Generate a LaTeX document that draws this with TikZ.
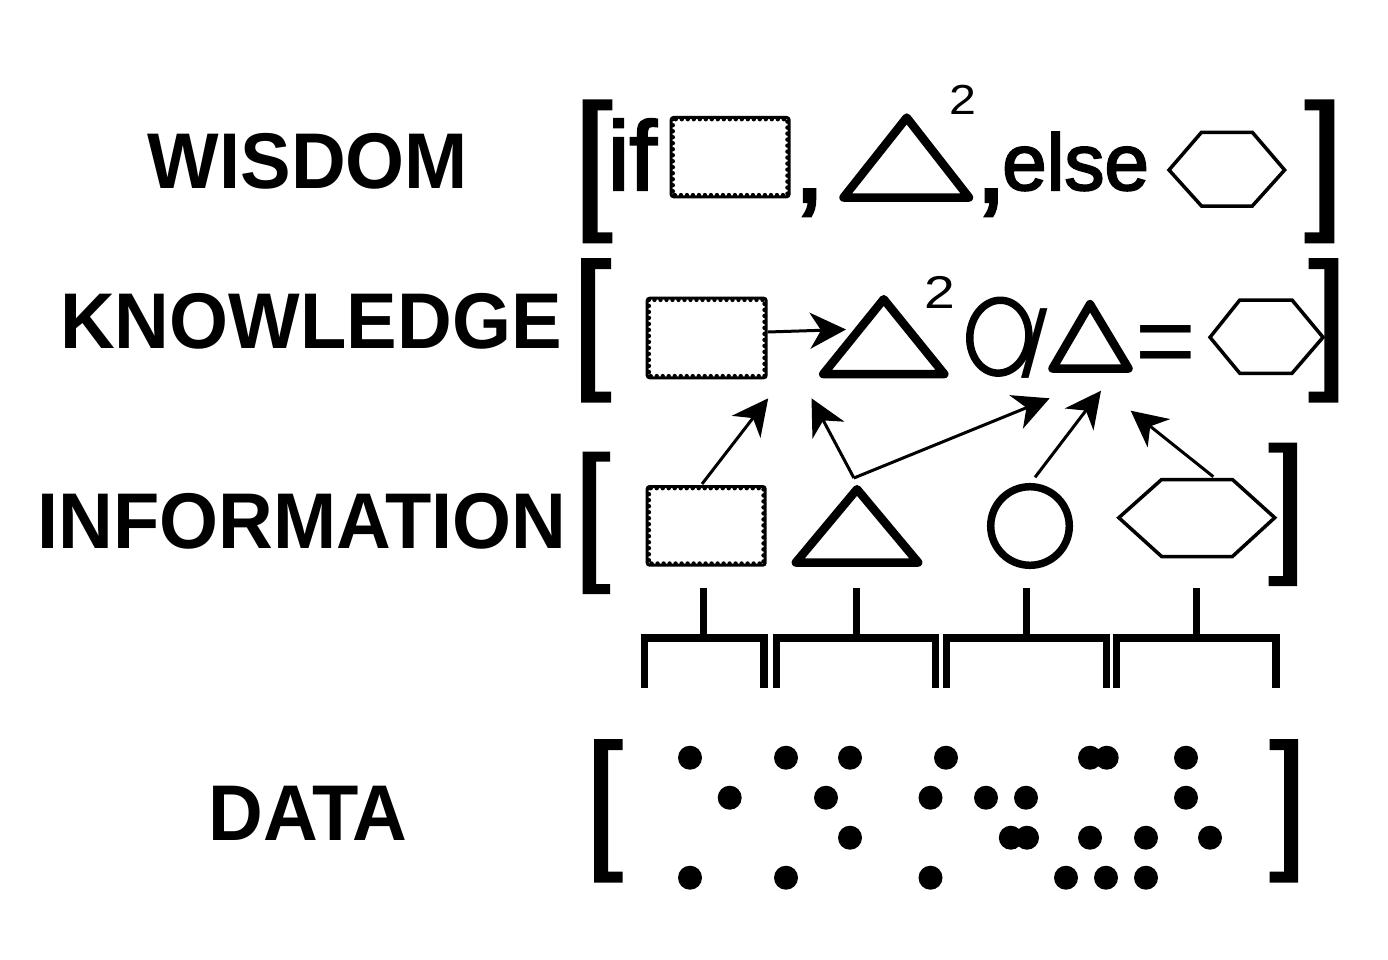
\documentclass[tikz,border=0pt]{standalone}
\usepackage{fontspec}
\setmainfont{Liberation Sans}
\newfontfamily\heavyfont{Liberation Sans}[FakeBold=2.5]
\usetikzlibrary{arrows.meta}
\tikzset{
  lbl/.style={font=\fontsize{79}{80}\selectfont\bfseries, inner sep=0pt, anchor=base},
  txt/.style={inner sep=0pt, anchor=base west},
  tri/.style={line width=8.5pt, line join=round},
  hex/.style={line width=3.5pt, line join=miter},
  arr/.style={line width=3pt, -{Stealth[length=36pt,width=36pt,inset=11pt]}},
  forkline/.style={line width=7.3pt, line join=miter},
  stemline/.style={line width=7pt},
  dotfill/.style={fill=black},
}
\newcommand\lbrk[6]{\fill (#1,#3) -- (#2,#3) -- (#2,#3+#6) -- (#1+#5,#3+#6) -- (#1+#5,#4-#6) -- (#2,#4-#6) -- (#2,#4) -- (#1,#4) -- cycle;}
\newcommand\rbrk[6]{\fill (#1,#3) -- (#2,#3) -- (#2,#3+#6) -- (#1-#5,#3+#6) -- (#1-#5,#4-#6) -- (#2,#4-#6) -- (#2,#4) -- (#1,#4) -- cycle;}
\newcommand\wavyrect[4]{%
  \draw[line width=3pt, rounded corners=2.5pt] (#1+1.5,#2+1.5) rectangle (#3-1.5,#4-1.5);
  \draw[line width=4.4pt, line cap=round, dash pattern=on 0pt off 6pt] (#1+3.2,#2+3.2) rectangle (#3-3.2,#4-3.2);}
\newcommand\dikwfork[3]{%
  \draw[forkline] (#1,687.7) -- (#1,638) -- (#2,638) -- (#2,687.7);
  \draw[stemline] (#3,588.3) -- (#3,638);}
\begin{document}
\begin{tikzpicture}[x=1pt,y=-1pt]
\useasboundingbox (0,0) rectangle (1388,960);
\fill[white] (0,0) rectangle (1388,960);

% ---------- labels ----------
\node[lbl] (wisdom) at (308,188.3) {\scalebox{0.96}[1]{WISDOM}};
\node[lbl] (knowledge) at (310.9,348.3) {\scalebox{0.96}[1]{KNOWLEDGE}};
\node[lbl] (information) at (302,548.3) {\scalebox{0.96}[1]{INFORMATION}};
\node[lbl] (data) at (308,840) {\scalebox{0.96}[1]{DATA}};

% ---------- brackets ----------
\lbrk{582.5}{612.3}{99.3}{243.3}{15}{11}
\rbrk{1334.4}{1304.5}{99.3}{243.3}{15}{11}
\lbrk{581}{611}{258}{402.7}{14}{11}
\rbrk{1338.4}{1308.5}{258}{402.7}{14}{11}
\lbrk{582.5}{610}{451.7}{594}{13.5}{10}
\rbrk{1297}{1268.7}{442.7}{586}{14}{10}
\lbrk{594}{622.5}{739}{882.7}{14}{11}
\rbrk{1298}{1269.7}{739}{882.7}{14}{11}

% ---------- wisdom row ----------
\node[txt, font=\heavyfont\fontsize{98}{100}\selectfont] (wif) at (607.5,190) {if};
\wavyrect{669.6}{116}{790.6}{198.3}
\node[txt, font=\heavyfont\fontsize{112}{114}\selectfont] (wcomma1) at (793.6,201.6) {\makebox[0.2em][l]{,}};
\draw[tri] (906.7,117.6) -- (843.5,197.5) -- (969,197.5) -- cycle;
\node[txt, font=\fontsize{42}{44}\selectfont] (wsq) at (949.3,115) {\scalebox{1.15}[1]{2}};
\node[txt, font=\heavyfont\fontsize{112}{114}\selectfont] (wcomma2) at (975.3,201.6) {\makebox[0.2em][l]{,}};
\node[txt, font=\heavyfont\fontsize{80}{82}\selectfont] (welse) at (1002,190) {else};
\draw[hex] (1169,170) -- (1201.5,132.3) -- (1252.3,132.3) -- (1284.6,170) -- (1252.3,206) -- (1201.5,206) -- cycle;

% ---------- knowledge row ----------
\wavyrect{645.7}{296.7}{767.7}{379.3}
\draw[tri] (883.7,299.2) -- (823.2,374.1) -- (944.3,374.1) -- cycle;
\node[txt, font=\fontsize{46}{48}\selectfont] (ksq) at (924.2,308) {\scalebox{1.2}[1]{2}};
\draw[line width=7.5pt] (999.3,336.7) ellipse [x radius=29.5pt, y radius=36.5pt, rotate=-5];
\node[txt, font=\fontsize{95}{96}\selectfont] (kslash) at (1021.7,377) {/};
\draw[tri] (1090,304.2) -- (1052.5,368.5) -- (1128.5,368.5) -- cycle;
\node[txt, font=\fontsize{104}{106}\selectfont] (keq) at (1135.7,376) {=};
\draw[hex] (1210,337.3) -- (1239.8,300) -- (1292,300) -- (1323,337.3) -- (1292,373.3) -- (1239.8,373.3) -- cycle;

% ---------- information row ----------
\wavyrect{645.7}{485}{766.7}{566.7}
\draw[tri] (857,489.2) -- (795.8,562.5) -- (918.2,562.5) -- cycle;
\draw[line width=7.5pt] (1030,526) circle[radius=39.3pt];
\draw[hex] (1118.8,517.7) -- (1161.6,479.5) -- (1232.4,479.5) -- (1274.7,517.7) -- (1232.4,556.5) -- (1161.6,556.5) -- cycle;

% ---------- connector end points ----------
\coordinate (kRectR) at (767.7,332);
\coordinate (kTriL) at (846,329.5);
\coordinate (iRectT) at (702,484);
\coordinate (iTriT) at (853.9,478);
\coordinate (iCircT) at (1035,477.3);
\coordinate (iHexT) at (1213.3,476.7);
\coordinate (kRectB) at (768.2,398.3);
\coordinate (kTriB) at (811.5,398.3);
\coordinate (kSlashB) at (1049.6,398.3);
\coordinate (kTri2B) at (1101,390.7);
\coordinate (kTri2BR) at (1130.7,410.7);

\draw[arr] (kRectR) -- (kTriL);
\draw[arr] (iRectT) -- (kRectB);
\draw[arr] (iTriT) -- (kTriB);
\draw[arr] (iTriT) -- (kSlashB);
\draw[arr] (iCircT) -- (kTri2B);
\draw[arr] (iHexT) -- (kTri2BR);

% ---------- forks ----------
\dikwfork{644.4}{764}{703.5}
\dikwfork{776.4}{935.8}{856.4}
\dikwfork{946.2}{1106.3}{1026}
\dikwfork{1116.5}{1276}{1196}

% ---------- data dots ----------
\foreach \px/\py in {690/757.7, 786/757.7, 850/757.7, 946/757.7, 1090/757.7, 1106.7/757.7, 1186/757.7,
  729.7/797.7, 826/797.7, 930.5/797.7, 986/797.7, 1026/797.7, 1186/797.7,
  850/837.7, 1010.8/837.7, 1027/837.7, 1090/837.7, 1146/837.7, 1210/837.7,
  690/877.7, 786/877.7, 930.5/877.7, 1066/877.7, 1106/877.7, 1146/877.7}
  \fill[dotfill] (\px,\py) circle[radius=12pt];
\end{tikzpicture}
\end{document}
